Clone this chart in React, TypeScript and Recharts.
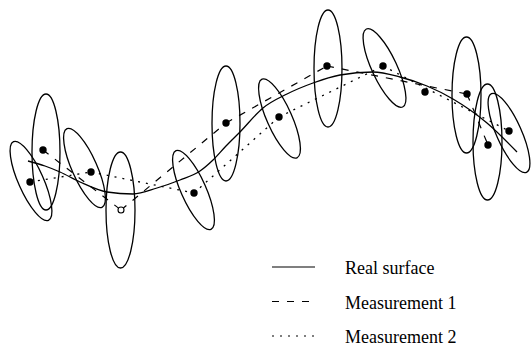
import React from 'react';
import { ComposedChart, Line, Scatter, XAxis, YAxis, Customized } from 'recharts';

const W = 531;
const H = 350;
const X_DOMAIN: [number, number] = [0, 531];
const Y_DOMAIN: [number, number] = [0, 350];

// Real surface profile
const realSurface = [
  { x: 28, y: 161 }, { x: 45, y: 166 }, { x: 60, y: 172 }, { x: 80, y: 182 },
  { x: 107, y: 192 }, { x: 133, y: 194 }, { x: 157, y: 188 }, { x: 180, y: 180 },
  { x: 200, y: 171 }, { x: 213, y: 160 }, { x: 226, y: 146 }, { x: 240, y: 132 },
  { x: 263, y: 108 }, { x: 287, y: 94 }, { x: 313, y: 83 }, { x: 340, y: 75 },
  { x: 373, y: 72 }, { x: 400, y: 77 }, { x: 427, y: 86 }, { x: 453, y: 99 },
  { x: 487, y: 123 }, { x: 517, y: 152 },
];

// Measurement 1 points (dashed)
const measurement1 = [
  { x: 43, y: 150 }, { x: 121, y: 210 }, { x: 226, y: 123 },
  { x: 327, y: 66 }, { x: 467, y: 94 }, { x: 488, y: 145 },
];
const hollowIndices = [1];

// Measurement 2 points (dotted)
const measurement2 = [
  { x: 30, y: 182 }, { x: 91, y: 172 }, { x: 194, y: 193 },
  { x: 279, y: 117 }, { x: 383, y: 66 }, { x: 509, y: 131 },
];

// Extra point without uncertainty ellipse
const extraPoints = [{ x: 425, y: 92 }];

// Uncertainty ellipses of measurement 1
const ellipses1 = [
  { x: 46, y: 152, rx: 14, ry: 58, tilt: 0 },
  { x: 120.5, y: 210, rx: 14.5, ry: 58, tilt: 0 },
  { x: 226, y: 123.5, rx: 14, ry: 57.5, tilt: 0 },
  { x: 328, y: 68.5, rx: 14, ry: 58.5, tilt: 0 },
  { x: 466.5, y: 95, rx: 14.5, ry: 58, tilt: 0 },
  { x: 487.5, y: 142, rx: 14.5, ry: 58, tilt: 0 },
];

// Uncertainty ellipses of measurement 2
const ellipses2 = [
  { x: 31, y: 181, rx: 12.5, ry: 43, tilt: -24 },
  { x: 84.5, y: 168, rx: 12.5, ry: 43, tilt: -24 },
  { x: 193.5, y: 190, rx: 12.5, ry: 43, tilt: -24 },
  { x: 279.5, y: 118.5, rx: 12.5, ry: 43, tilt: -24 },
  { x: 384.5, y: 68, rx: 12.5, ry: 43, tilt: -25 },
  { x: 509, y: 133, rx: 12.5, ry: 43, tilt: -24 },
];

const legendLabels = ['Real surface', 'Measurement 1', 'Measurement 2'];
const legendDashes = ['', '7 8', '2 6'];

const kx = W / (X_DOMAIN[1] - X_DOMAIN[0]);
const ky = H / (Y_DOMAIN[1] - Y_DOMAIN[0]);

const SERIF = '"Liberation Serif", "DejaVu Serif", serif';

const EllipseShape = (props: any) => {
  const { cx, cy, payload } = props;
  if (cx == null || cy == null) return null;
  return (
    <ellipse
      cx={cx}
      cy={cy}
      rx={payload.rx * kx}
      ry={payload.ry * ky}
      transform={`rotate(${payload.tilt} ${cx} ${cy})`}
      fill="none"
      stroke="#000"
      strokeWidth={1.3}
    />
  );
};

const FilledDot = (props: any) => {
  const { cx, cy } = props;
  if (cx == null || cy == null) return null;
  return <circle cx={cx} cy={cy} r={3.7} fill="#000" />;
};

const HollowDot = (props: any) => {
  const { cx, cy } = props;
  if (cx == null || cy == null) return null;
  return <circle cx={cx} cy={cy} r={3} fill="#fff" stroke="#000" strokeWidth={1.1} />;
};

const LegendBlock = () => (
  <g>
    {legendLabels.map((label, i) => {
      const y = 267 + i * 34.5;
      return (
        <g key={label}>
          <line
            x1={272}
            x2={315}
            y1={y}
            y2={y}
            stroke="#000"
            strokeWidth={1.2}
            strokeDasharray={legendDashes[i] || undefined}
          />
          <text
            x={345}
            y={y + 7}
            style={{ fontFamily: SERIF, fontSize: 18 }}
            fill="#000"
          >
            {label}
          </text>
        </g>
      );
    })}
  </g>
);

const seg1 = measurement1.slice(1).map((p, i) => [measurement1[i], p]);
const seg2 = measurement2.slice(1).map((p, i) => [measurement2[i], p]);

export default function App() {
  const filled1 = measurement1.filter((_, i) => !hollowIndices.includes(i));
  const hollow1 = measurement1.filter((_, i) => hollowIndices.includes(i));
  return (
    <div style={{ position: 'absolute', left: 0, top: 0, width: W, height: H, background: '#fff', fontFamily: SERIF }}>
      <ComposedChart width={W} height={H} margin={{ top: 0, right: 0, bottom: 0, left: 0 }}>
        <XAxis dataKey="x" type="number" domain={X_DOMAIN} hide allowDataOverflow />
        <YAxis dataKey="y" type="number" domain={Y_DOMAIN} reversed hide allowDataOverflow />
        <Line
          data={realSurface}
          dataKey="y"
          type="monotone"
          stroke="#000"
          strokeWidth={1.3}
          dot={false}
          activeDot={false}
          isAnimationActive={false}
          legendType="none"
        />
        {seg1.map((s, i) => (
          <Line
            key={`m1-${i}`}
            data={s}
            dataKey="y"
            type="linear"
            stroke="#000"
            strokeWidth={1.2}
            strokeDasharray="7 8"
            dot={false}
            activeDot={false}
            isAnimationActive={false}
            legendType="none"
          />
        ))}
        {seg2.map((s, i) => (
          <Line
            key={`m2-${i}`}
            data={s}
            dataKey="y"
            type="linear"
            stroke="#000"
            strokeWidth={1.3}
            strokeDasharray="2 6"
            dot={false}
            activeDot={false}
            isAnimationActive={false}
            legendType="none"
          />
        ))}
        <Scatter data={ellipses1} shape={EllipseShape} isAnimationActive={false} legendType="none" />
        <Scatter data={ellipses2} shape={EllipseShape} isAnimationActive={false} legendType="none" />
        <Scatter data={filled1} shape={FilledDot} isAnimationActive={false} legendType="none" />
        <Scatter data={measurement2} shape={FilledDot} isAnimationActive={false} legendType="none" />
        <Scatter data={extraPoints} shape={FilledDot} isAnimationActive={false} legendType="none" />
        <Scatter data={hollow1} shape={HollowDot} isAnimationActive={false} legendType="none" />
        <Customized component={LegendBlock} />
      </ComposedChart>
    </div>
  );
}
